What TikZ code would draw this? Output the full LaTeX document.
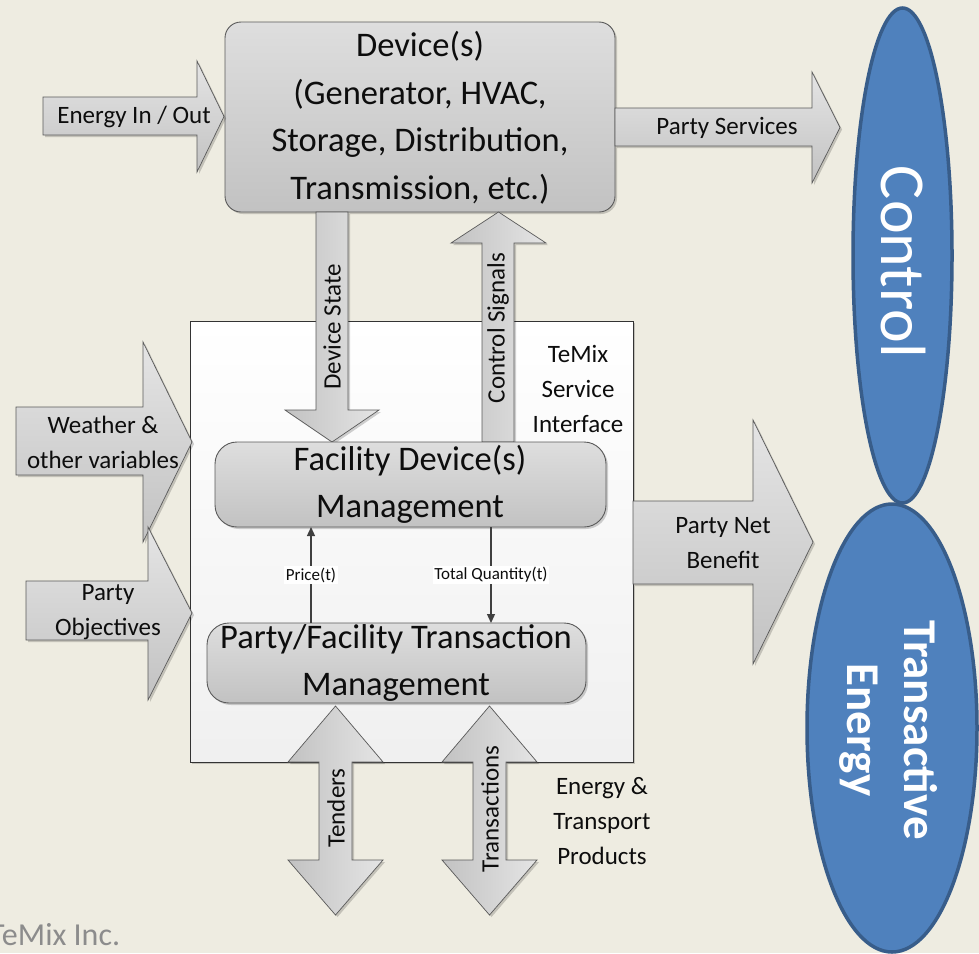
\documentclass[tikz,border=0pt]{standalone}
\usepackage{fontspec}
\setmainfont{Carlito}
\usetikzlibrary{arrows.meta,shadows}
\definecolor{bg}{HTML}{EEECE1}
\definecolor{boxtop}{HTML}{DEDEDE}
\definecolor{boxbot}{HTML}{C2C2C2}
\definecolor{edge}{HTML}{5A5A5A}
\definecolor{ellfill}{HTML}{4F81BD}
\definecolor{elledge}{HTML}{385D8A}
\definecolor{inktext}{HTML}{0D0D0D}
\begin{document}
\begin{tikzpicture}[x=1pt,y=-1pt,
  shad/.style={drop shadow={shadow xshift=2pt,shadow yshift=-2pt,opacity=0.18,fill=black}},
  gbox/.style={draw=edge,line width=0.9pt,top color=boxtop,bottom color=boxbot,shad},
  barrow/.style={draw=edge,line width=0.7pt,top color=boxtop!80!white,bottom color=boxbot,shad,line join=miter},
  varrow/.style={draw=edge,line width=0.7pt,left color=boxbot,right color=boxtop!80!white,shad,line join=miter},
  big/.style={font=\fontsize{34.5}{47.5}\selectfont,text=inktext,align=center},
  mid/.style={font=\fontsize{25}{35}\selectfont,text=inktext,align=center},
  tiny/.style={font=\fontsize{17}{19}\selectfont,text=inktext,fill=white,inner sep=1.5pt},
  flow/.style={draw=black!75,line width=1.3pt,-{Triangle[length=9pt,width=8pt]}},
  ell/.style={draw=elledge,line width=3.5pt,fill=ellfill}]
\fill[bg] (0,0) rectangle (979,953);
\useasboundingbox (0,0) rectangle (979,953);

% ellipses
\path[ell] (892,728) ellipse [x radius=85,y radius=224];
\path[ell] (902.5,255.5) ellipse [x radius=49.5,y radius=247.5];
\node[font=\fontsize{64}{70}\selectfont,text=white,rotate=-90] (ctl) at (903,262) {Control};
\node[font=\fontsize{47}{57}\selectfont\bfseries,text=white,rotate=-90,align=center] (te) at (889,730) {Transactive\\Energy};

% TeMix service interface box
\path[draw=black!80,line width=0.9pt,top color=white,bottom color=black!6,shad] (190,321) rectangle (633,762);
\node[mid] (tsi) at (578,389) {TeMix\\Service\\Interface};

% Device box
\path[gbox,rounded corners=16pt] (225,22) rectangle (615,212);
\node[big] (dev) at (420,118) {Device(s)\\(Generator, HVAC,\\Storage, Distribution,\\Transmission, etc.)};

% block arrows: Energy In / Out
\path[barrow] (43,97) -- (197,97) -- (197,61) -- (224,116.5) -- (197,172) -- (197,135) -- (43,135) -- cycle;
\node[mid] (eio) at (134,117) {Energy In / Out};
% Party services
\path[barrow] (615,108) -- (812,108) -- (812,72) -- (840,127.5) -- (812,183) -- (812,146) -- (615,146) -- cycle;
\node[mid] (ps) at (727,128) {Party Services};

% Device state (down)
\path[varrow] (316,212) -- (348,212) -- (348,410) -- (379,410) -- (332,442) -- (285,410) -- (316,410) -- cycle;
\node[mid,rotate=90] (ds) at (332,327) {Device State};
% Control signals (up)
\path[varrow] (482,442) -- (482,243) -- (451,243) -- (498.5,212) -- (546,243) -- (514,243) -- (514,442) -- cycle;
\node[mid,rotate=90] (cs) at (498,328) {Control Signals};

% Weather
\path[barrow] (16,407) -- (143,407) -- (143,342) -- (192,442) -- (143,542) -- (143,475) -- (16,475) -- cycle;
\node[mid] (wx) at (103,442) {Weather \&\\other variables};
% Party objectives
\path[barrow] (26,581) -- (148,581) -- (148,527) -- (192,613) -- (148,700) -- (148,640) -- (26,640) -- cycle;
\node[mid] (po) at (108,612) {Party\\Objectives};
% Party net benefit
\path[barrow] (633,501) -- (753,501) -- (753,420) -- (813,542) -- (753,664) -- (753,584) -- (633,584) -- cycle;
\node[mid] (pnb) at (723,543) {Party Net\\Benefit};

% Facility box
\path[gbox,rounded corners=22pt] (215,442) rectangle (606,527);
\node[big] (fdm) at (410,484.5) {Facility Device(s)\\Management};
% Party/Facility box
\path[gbox,rounded corners=22pt] (207,623) rectangle (586,703);
\node[big] (ptm) at (396,663) {Party/Facility Transaction\\Management};

% Tenders / Transactions double arrows
\path[varrow] (319,762) -- (319,860) -- (288,860) -- (335.5,915) -- (383,860) -- (352,860) -- (352,762) -- (383,762) -- (335.5,706) -- (288,762) -- cycle;
\node[mid,rotate=90] (ten) at (336,808) {Tenders};
\path[varrow] (473,762) -- (473,860) -- (442,860) -- (489.5,915) -- (537,860) -- (506,860) -- (506,762) -- (537,762) -- (489.5,706) -- (442,762) -- cycle;
\node[mid,rotate=90] (trn) at (490,809) {Transactions};
\node[mid] (etp) at (602,821) {Energy \&\\Transport\\Products};

% Price / quantity flows
\coordinate (pb) at (311,623);
\coordinate (pt) at (311,527);
\coordinate (qt) at (491,527);
\coordinate (qb) at (491,623);
\draw[flow] (pb) -- node[tiny] (pr) {Price(t)} (pt);
\draw[flow] (qt) -- node[tiny] (tq) {Total Quantity(t)} (qb);

% footer
\node[font=\fontsize{32}{36}\selectfont,text=black!45,anchor=base west,inner sep=0pt] (inc) at (-11,945) {TeMix Inc.};
\end{tikzpicture}
\end{document}
